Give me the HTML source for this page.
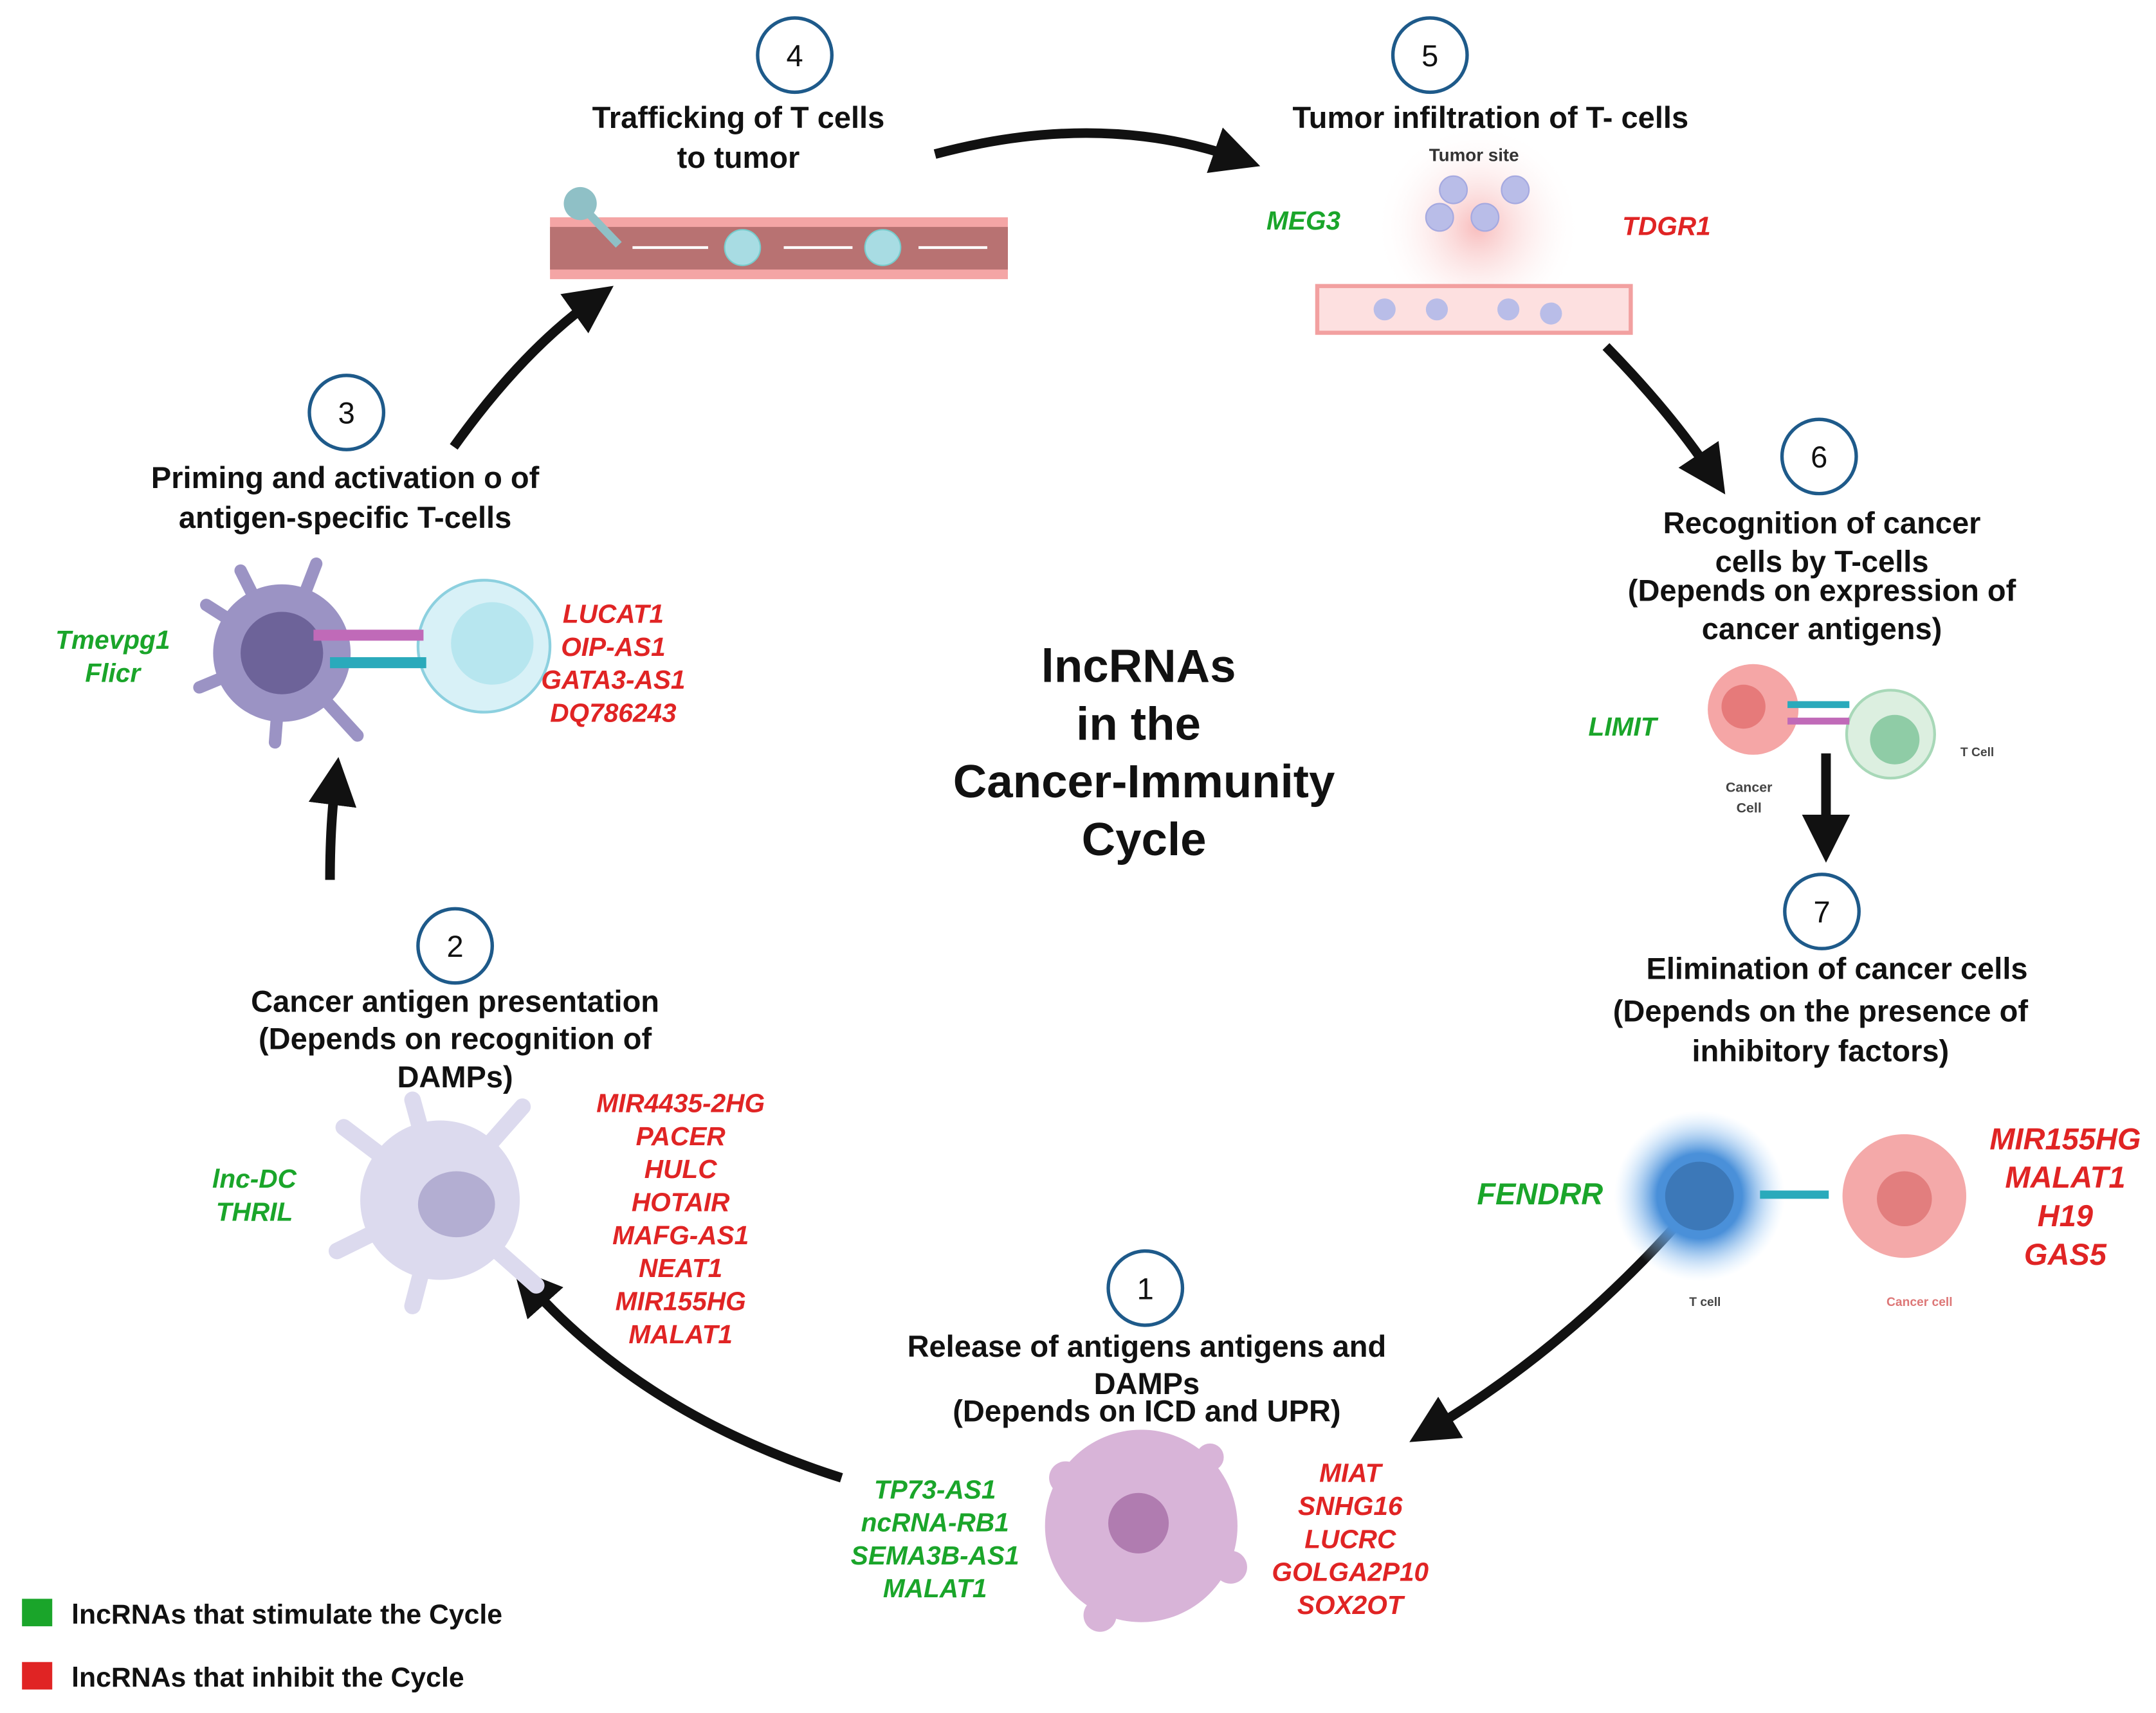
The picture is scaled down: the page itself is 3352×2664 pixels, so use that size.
<!DOCTYPE html>
<html><head><meta charset="utf-8"><style>
html,body{margin:0;padding:0;background:#fff;width:3352px;height:2664px;overflow:hidden}
svg{display:block}
text{font-family:"Liberation Sans",sans-serif;font-weight:bold}
.t{font-size:22px;fill:#111;text-anchor:middle}
.g{font-size:19px;fill:#1aa52a;font-style:italic;text-anchor:middle}
.r{font-size:19px;fill:#e02424;font-style:italic;text-anchor:middle}
.n{font-size:22px;fill:#111;text-anchor:middle;font-weight:normal}
</style></head><body>
<svg width="3352" height="2664" viewBox="0 0 1568 1246" xmlns="http://www.w3.org/2000/svg">
<defs>
<marker id="ah" viewBox="0 0 10 10" refX="5" refY="5" markerWidth="5" markerHeight="5" orient="auto"><path d="M0,0 L10,5 L0,10 z" fill="#111"/></marker>
<radialGradient id="pk"><stop offset="0" stop-color="#f5a0a0" stop-opacity=".7"/><stop offset="1" stop-color="#fff" stop-opacity="0"/></radialGradient>
<radialGradient id="bl"><stop offset=".5" stop-color="#4a90d9"/><stop offset="1" stop-color="#bfe0ff" stop-opacity="0"/></radialGradient>
</defs>
<g fill="#fff" stroke="#1e5a8a" stroke-width="2.5">
<circle cx="578" cy="40" r="27"/><circle cx="1040" cy="40" r="27"/><circle cx="252" cy="300" r="27"/>
<circle cx="1323" cy="332" r="27"/><circle cx="1325" cy="663" r="27"/><circle cx="331" cy="688" r="27"/><circle cx="833" cy="937" r="27"/></g>
<g><text x="578" y="48" class="n">4</text><text x="1040" y="48" class="n">5</text><text x="252" y="308" class="n">3</text>
<text x="1323" y="340" class="n">6</text><text x="1325" y="671" class="n">7</text><text x="331" y="696" class="n">2</text><text x="833" y="945" class="n">1</text></g>
<text class="t" x="537" y="93">Trafficking of T cells</text><text class="t" x="537" y="122">to tumor</text>
<text class="t" x="1084" y="93">Tumor infiltration of T- cells</text>
<text class="t" x="251" y="355">Priming and activation o of</text><text class="t" x="251" y="384">antigen-specific T-cells</text>
<text class="t" x="1325" y="388">Recognition of cancer</text><text class="t" x="1325" y="416">cells by T-cells</text>
<text class="t" x="1325" y="437">(Depends on expression of</text><text class="t" x="1325" y="465">cancer antigens)</text>
<text class="t" x="1336" y="712">Elimination of cancer cells</text><text class="t" x="1324" y="743">(Depends on the presence of</text><text class="t" x="1324" y="772">inhibitory factors)</text>
<text class="t" x="331" y="736">Cancer antigen presentation</text><text class="t" x="331" y="763">(Depends on recognition of</text><text class="t" x="331" y="791">DAMPs)</text>
<text class="t" x="834" y="987">Release of antigens antigens and</text><text class="t" x="834" y="1014">DAMPs</text><text class="t" x="834" y="1034">(Depends on ICD and UPR)</text>
<g class="t"><text x="828" y="496" style="font-size:34px">lncRNAs</text><text x="828" y="538" style="font-size:34px">in the</text><text x="832" y="580" style="font-size:34px">Cancer-Immunity</text><text x="832" y="622" style="font-size:34px">Cycle</text></g>
<g fill="none" stroke="#111" stroke-width="7" marker-end="url(#ah)">
<path d="M680,112 Q800,80 900,115"/>
<path d="M1168,252 Q1215,300 1245,345"/>
<path d="M1328,548 L1328,610"/>
<path d="M1222,888 Q1140,980 1040,1040"/>
<path d="M612,1075 Q470,1030 385,935"/>
<path d="M240,640 Q240,600 244,568"/>
<path d="M330,325 Q380,255 432,218"/>
</g>
<rect x="400" y="158" width="333" height="45" fill="#f4a5a5"/><rect x="400" y="165" width="333" height="31" fill="#b87272"/>
<circle cx="540" cy="180" r="13" fill="#a8dce3" stroke="#7cc"/><circle cx="642" cy="180" r="13" fill="#a8dce3" stroke="#7cc"/>
<circle cx="422" cy="148" r="12" fill="#8fc0c6"/><path d="M428,155 L450,178" stroke="#8fc0c6" stroke-width="6"/>
<g stroke="#fff" stroke-width="2"><line x1="460" y1="180" x2="515" y2="180"/><line x1="570" y1="180" x2="620" y2="180"/><line x1="668" y1="180" x2="718" y2="180"/></g>
<ellipse cx="1075" cy="165" rx="75" ry="75" fill="url(#pk)"/>
<text x="1072" y="117" style="font-size:13px;fill:#333;text-anchor:middle">Tumor site</text>
<g fill="#b9bde8" stroke="#a5a9e0"><circle cx="1057" cy="138" r="10"/><circle cx="1102" cy="138" r="10"/><circle cx="1047" cy="158" r="10"/><circle cx="1080" cy="158" r="10"/></g>
<rect x="958" y="208" width="228" height="34" fill="#fde0e0" stroke="#f2a0a0" stroke-width="3"/>
<g fill="#b9bde8"><circle cx="1007" cy="225" r="8"/><circle cx="1045" cy="225" r="8"/><circle cx="1097" cy="225" r="8"/><circle cx="1128" cy="228" r="8"/></g>
<text class="g" x="948" y="167">MEG3</text><text class="r" x="1212" y="171">TDGR1</text>
<g stroke="#9b93c4" stroke-width="9" stroke-linecap="round"><line x1="205" y1="475" x2="150" y2="440"/><line x1="205" y1="475" x2="145" y2="500"/><line x1="205" y1="475" x2="230" y2="410"/><line x1="205" y1="475" x2="200" y2="540"/><line x1="205" y1="475" x2="260" y2="535"/><line x1="205" y1="475" x2="175" y2="415"/></g>
<circle cx="205" cy="475" r="50" fill="#9b93c4"/><circle cx="205" cy="475" r="30" fill="#6d6399"/>
<circle cx="352" cy="470" r="48" fill="#d8f1f7" stroke="#8cd0df" stroke-width="2"/><circle cx="358" cy="468" r="30" fill="#b7e6ef"/>
<rect x="228" y="458" width="80" height="8" fill="#c06ab8"/><rect x="240" y="478" width="70" height="8" fill="#2aaabb"/>
<text class="g" x="82" y="472">Tmevpg1</text><text class="g" x="82" y="496">Flicr</text>
<text class="r" x="446" y="453">LUCAT1</text><text class="r" x="446" y="477">OIP-AS1</text><text class="r" x="446" y="501">GATA3-AS1</text><text class="r" x="446" y="525">DQ786243</text>
<circle cx="1275" cy="516" r="33" fill="#f5a6a6"/><circle cx="1268" cy="514" r="16" fill="#e67a7a"/>
<circle cx="1375" cy="534" r="32" fill="#dcefe0" stroke="#a8d8b8" stroke-width="2"/><circle cx="1378" cy="538" r="18" fill="#8fcca6"/>
<rect x="1300" y="510" width="45" height="5" fill="#2aaabb"/><rect x="1300" y="522" width="45" height="5" fill="#c06ab8"/>
<text class="g" x="1180" y="535">LIMIT</text>
<text x="1272" y="576" style="font-size:10px;fill:#444;text-anchor:middle">Cancer</text><text x="1272" y="591" style="font-size:10px;fill:#444;text-anchor:middle">Cell</text>
<text x="1438" y="550" style="font-size:9px;fill:#444;text-anchor:middle">T Cell</text>
<circle cx="1236" cy="870" r="62" fill="url(#bl)"/><circle cx="1236" cy="870" r="25" fill="#3c78b8"/>
<circle cx="1385" cy="870" r="45" fill="#f4a9a9"/><circle cx="1385" cy="872" r="20" fill="#e27e7e"/>
<rect x="1280" y="866" width="50" height="6" fill="#2aaabb"/>
<text class="g" x="1120" y="876" style="font-size:22px">FENDRR</text>
<text x="1502" y="836" class="r" style="font-size:22px">MIR155HG</text><text x="1502" y="864" class="r" style="font-size:22px">MALAT1</text><text x="1502" y="892" class="r" style="font-size:22px">H19</text><text x="1502" y="920" class="r" style="font-size:22px">GAS5</text>
<text x="1240" y="950" style="font-size:9px;fill:#444;text-anchor:middle">T cell</text><text x="1396" y="950" style="font-size:9px;fill:#d77;text-anchor:middle">Cancer cell</text>
<g stroke="#dcdaee" stroke-width="12" stroke-linecap="round"><line x1="320" y1="873" x2="250" y2="820"/><line x1="320" y1="873" x2="245" y2="910"/><line x1="320" y1="873" x2="380" y2="805"/><line x1="320" y1="873" x2="300" y2="800"/><line x1="320" y1="873" x2="390" y2="935"/><line x1="320" y1="873" x2="300" y2="950"/></g>
<circle cx="320" cy="873" r="58" fill="#dcdaee"/><ellipse cx="332" cy="876" rx="28" ry="24" fill="#b3aed2"/>
<text class="g" x="185" y="864">lnc-DC</text><text class="g" x="185" y="888">THRIL</text>
<text x="495" y="809" class="r">MIR4435-2HG</text><text x="495" y="833" class="r">PACER</text><text x="495" y="857" class="r">HULC</text><text x="495" y="881" class="r">HOTAIR</text><text x="495" y="905" class="r">MAFG-AS1</text><text x="495" y="929" class="r">NEAT1</text><text x="495" y="953" class="r">MIR155HG</text><text x="495" y="977" class="r">MALAT1</text>
<g fill="#d8b4d8"><circle cx="775" cy="1075" r="12"/><circle cx="880" cy="1060" r="10"/><circle cx="895" cy="1140" r="12"/><circle cx="800" cy="1175" r="12"/></g>
<circle cx="830" cy="1110" r="70" fill="#d8b4d8"/><circle cx="828" cy="1108" r="22" fill="#b07cb0"/>
<text class="g" x="680" y="1090">TP73-AS1</text><text class="g" x="680" y="1114">ncRNA-RB1</text><text class="g" x="680" y="1138">SEMA3B-AS1</text><text class="g" x="680" y="1162">MALAT1</text>
<text class="r" x="982" y="1078">MIAT</text><text class="r" x="982" y="1102">SNHG16</text><text class="r" x="982" y="1126">LUCRC</text><text class="r" x="982" y="1150">GOLGA2P10</text><text class="r" x="982" y="1174">SOX2OT</text>
<rect x="16" y="1163" width="22" height="20" fill="#1aa52a"/><rect x="16" y="1209" width="22" height="20" fill="#e02424"/>
<text x="52" y="1181" style="font-size:20px;fill:#111">lncRNAs that stimulate the Cycle</text>
<text x="52" y="1227" style="font-size:20px;fill:#111">lncRNAs that inhibit the Cycle</text>
</svg>
</body></html>
